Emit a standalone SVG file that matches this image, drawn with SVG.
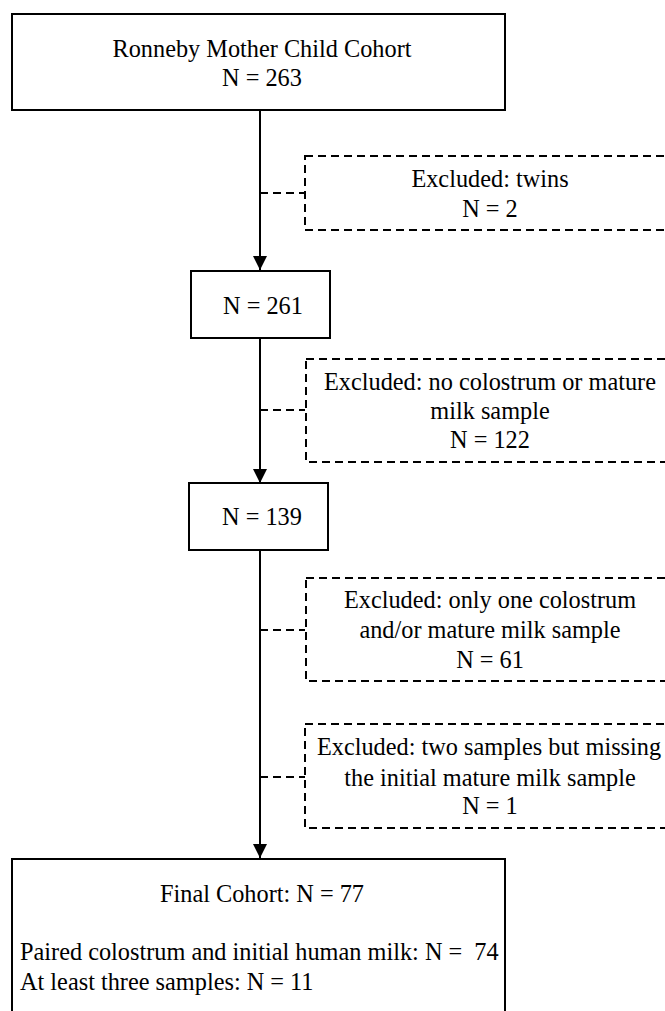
<svg xmlns="http://www.w3.org/2000/svg" width="665" height="1011" viewBox="0 0 665 1011">
<style>
.box{fill:#fff;stroke:#000;stroke-width:2}
.dbox{fill:none;stroke:#000;stroke-width:2;stroke-dasharray:8 5}
.line{fill:none;stroke:#000;stroke-width:2}
.dline{fill:none;stroke:#000;stroke-width:2;stroke-dasharray:8 5}
text{font-family:"Liberation Serif","Times New Roman",serif;font-size:24.3px;fill:#000}
.c{text-anchor:middle}
</style>
<defs>
<marker id="arr" markerUnits="userSpaceOnUse" markerWidth="16" markerHeight="16" refX="14" refY="7" orient="auto">
<path d="M0,0 L14,7 L0,14 Z" fill="#000"/>
</marker>
</defs>
<rect width="665" height="1011" fill="#fff"/>
<g id="connectors">
<line class="line" x1="260" y1="111" x2="260" y2="270" marker-end="url(#arr)"/>
<line class="line" x1="260" y1="338" x2="260" y2="483" marker-end="url(#arr)"/>
<line class="line" x1="260" y1="550" x2="260" y2="858" marker-end="url(#arr)"/>
<line class="dline" x1="260" y1="193" x2="305" y2="193"/>
<line class="dline" x1="260" y1="410" x2="305" y2="410"/>
<line class="dline" x1="260" y1="630" x2="305" y2="630"/>
<line class="dline" x1="260" y1="777" x2="305" y2="777"/>
</g>
<g id="n1">
<rect class="box" x="12" y="14" width="493" height="96"/>
<text class="c" x="262" y="57">Ronneby Mother Child Cohort</text>
<text class="c" x="262" y="86">N = 263</text>
</g>
<g id="x1">
<rect class="dbox" x="305" y="156" width="370" height="74"/>
<text class="c" x="490" y="187">Excluded: twins</text>
<text class="c" x="490" y="217">N = 2</text>
</g>
<g id="n2">
<rect class="box" x="191" y="271" width="139" height="67"/>
<text class="c" x="263" y="314">N = 261</text>
</g>
<g id="x2">
<rect class="dbox" x="306" y="359" width="370" height="103"/>
<text class="c" x="490" y="390">Excluded: no colostrum or mature</text>
<text class="c" x="490" y="419">milk sample</text>
<text class="c" x="490" y="448">N = 122</text>
</g>
<g id="n3">
<rect class="box" x="189" y="483" width="139" height="67"/>
<text class="c" x="262" y="525">N = 139</text>
</g>
<g id="x3">
<rect class="dbox" x="306" y="578" width="370" height="103"/>
<text class="c" x="490" y="608">Excluded: only one colostrum</text>
<text class="c" x="490" y="638">and/or mature milk sample</text>
<text class="c" x="490" y="668">N = 61</text>
</g>
<g id="x4">
<rect class="dbox" x="305" y="724" width="370" height="104"/>
<text class="c" x="489" y="755">Excluded: two samples but missing</text>
<text class="c" x="490" y="786">the initial mature milk sample</text>
<text class="c" x="490" y="814">N = 1</text>
</g>
<g id="n4">
<rect class="box" x="12" y="859" width="493" height="170"/>
<text class="c" x="262" y="902">Final Cohort: N = 77</text>
<text x="20" y="960" xml:space="preserve">Paired colostrum and initial human milk: N =  74</text>
<text x="20" y="990">At least three samples: N = 11</text>
</g>
</svg>
